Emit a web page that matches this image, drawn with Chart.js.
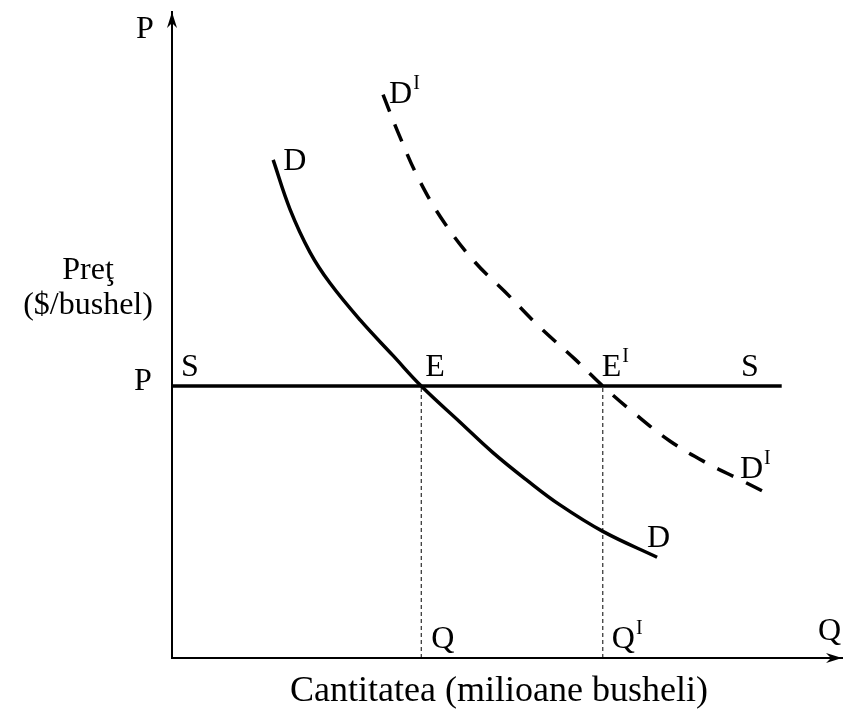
<!DOCTYPE html>
<html>
<head>
<meta charset="utf-8">
<script src="https://cdn.jsdelivr.net/npm/chart.js@4/dist/chart.umd.min.js"></script>
<style>
  html, body { margin: 0; padding: 0; background: #fff; }
  #wrap { width: 845px; height: 711px; }
</style>
</head>
<body>
<div id="wrap"><canvas id="myChart"></canvas></div>
<script>
// curve D (original demand)
const demandQ = [1.51, 1.76, 2.06, 2.36, 2.81, 3.30, 3.72, 4.30, 4.79, 5.30, 5.79, 6.43, 7.24];
const demandP = [7.71, 6.95, 6.28, 5.80, 5.23, 4.68, 4.21, 3.65, 3.18, 2.75, 2.37, 1.96, 1.56];

// curve D^I (shifted demand, dashed)
const demand2Q = [3.15, 3.40, 3.70, 4.07, 4.52, 4.97, 5.49, 6.01, 6.43, 6.91, 7.43, 7.96, 8.48, 8.88];
const demand2P = [8.72, 8.07, 7.38, 6.73, 6.13, 5.67, 5.12, 4.63, 4.21, 3.78, 3.36, 3.03, 2.76, 2.55];

// horizontal supply S at price P
const supplyPrice = 4.21;
const supplyQ = [0, 9.10];

// equilibrium quantities Q and Q^I
const eqQ = [3.72, 6.43];

const toPoints = (xs, ys) => xs.map((x, i) => ({ x: x, y: ys[i] }));

const serif = '"Liberation Serif", "Times New Roman", serif';

const arrowsAndText = {
  id: 'arrowsAndText',
  afterDraw(chart) {
    const ctx = chart.ctx;
    const a = chart.chartArea;
    const xs = chart.scales.x, ys = chart.scales.y;
    ctx.save();
    ctx.fillStyle = '#000';

    // arrow heads on the axes
    ctx.beginPath();
    ctx.moveTo(a.left, a.top);
    ctx.lineTo(a.left - 5, a.top + 16);
    ctx.lineTo(a.left, a.top + 11);
    ctx.lineTo(a.left + 5, a.top + 16);
    ctx.closePath();
    ctx.fill();
    ctx.beginPath();
    ctx.moveTo(a.right, a.bottom);
    ctx.lineTo(a.right - 16, a.bottom - 5);
    ctx.lineTo(a.right - 11, a.bottom);
    ctx.lineTo(a.right - 16, a.bottom + 5);
    ctx.closePath();
    ctx.fill();

    const big = '32px ' + serif;
    const small = '20px ' + serif;
    ctx.textBaseline = 'alphabetic';

    function label(text, x, y, sup) {
      ctx.font = big;
      ctx.textAlign = 'left';
      ctx.fillText(text, x, y);
      if (sup) {
        const w = ctx.measureText(text).width;
        ctx.font = small;
        ctx.fillText(sup, x + w + 1, y - 14);
      }
    }

    const px = v => xs.getPixelForValue(v);
    const py = v => ys.getPixelForValue(v);
    const pY = py(supplyPrice);

    label('P', 136, 38);
    label('Q', 818, 640);
    label('P', 134, pY + 4);
    label('S', 181, pY - 10);
    label('E', px(eqQ[0]) + 4, pY - 10);
    label('E', px(eqQ[1]) - 1, pY - 10, 'I');
    label('S', 741, pY - 10);
    label('D', px(demandQ[0]) + 10, py(demandP[0]) + 10);
    label('D', px(demandQ[demandQ.length - 1]) - 10, py(demandP[demandP.length - 1]) - 10);
    label('D', px(demand2Q[0]) + 6, py(demand2P[0]) + 8, 'I');
    label('D', px(demand2Q[demand2Q.length - 1]) - 27, py(demand2P[demand2P.length - 1]) - 15, 'I');
    label('Q', px(eqQ[0]) + 10, a.bottom - 10);
    label('Q', px(eqQ[1]) + 9, a.bottom - 10, 'I');

    ctx.font = big;
    ctx.textAlign = 'center';
    ctx.fillText('Preţ', 88, 279);
    ctx.fillText('($/bushel)', 88, 314);
    ctx.font = '36px ' + serif;
    ctx.fillText('Cantitatea (milioane busheli)', 499, 701);
    ctx.restore();
  }
};

const ctx = document.getElementById('myChart').getContext('2d');
const chart = new Chart(ctx, {
  type: 'scatter',
  data: {
    datasets: [
      {
        data: toPoints(demandQ, demandP),
        showLine: true,
        borderColor: '#000',
        borderWidth: 3.5,
        pointRadius: 0,
        tension: 0.4,
        borderCapStyle: 'butt'
      },
      {
        data: toPoints(demand2Q, demand2P),
        showLine: true,
        borderColor: '#000',
        borderWidth: 3.5,
        borderDash: [18, 14],
        pointRadius: 0,
        tension: 0.4
      },
      {
        data: toPoints(supplyQ, [supplyPrice, supplyPrice]),
        showLine: true,
        borderColor: '#000',
        borderWidth: 3.5,
        pointRadius: 0
      },
      {
        data: [{ x: eqQ[0], y: 0 }, { x: eqQ[0], y: supplyPrice }],
        showLine: true,
        borderColor: '#000',
        borderWidth: 1,
        borderDash: [4, 3],
        pointRadius: 0
      },
      {
        data: [{ x: eqQ[1], y: 0 }, { x: eqQ[1], y: supplyPrice }],
        showLine: true,
        borderColor: '#000',
        borderWidth: 1,
        borderDash: [4, 3],
        pointRadius: 0
      }
    ]
  },
  options: {
    responsive: true,
    maintainAspectRatio: false,
    animation: false,
    clip: false,
    layout: { padding: { left: 164, right: 3, top: 12, bottom: 45 } },
    plugins: { legend: { display: false }, tooltip: { enabled: false } },
    scales: {
      x: {
        type: 'linear', min: 0, max: 10,
        grid: { display: false },
        ticks: { display: false },
        border: { display: true, color: '#000', width: 2 }
      },
      y: {
        type: 'linear', min: 0, max: 10,
        grid: { display: false },
        ticks: { display: false },
        border: { display: true, color: '#000', width: 2 }
      }
    }
  },
  plugins: [arrowsAndText]
});
</script>
</body>
</html>
